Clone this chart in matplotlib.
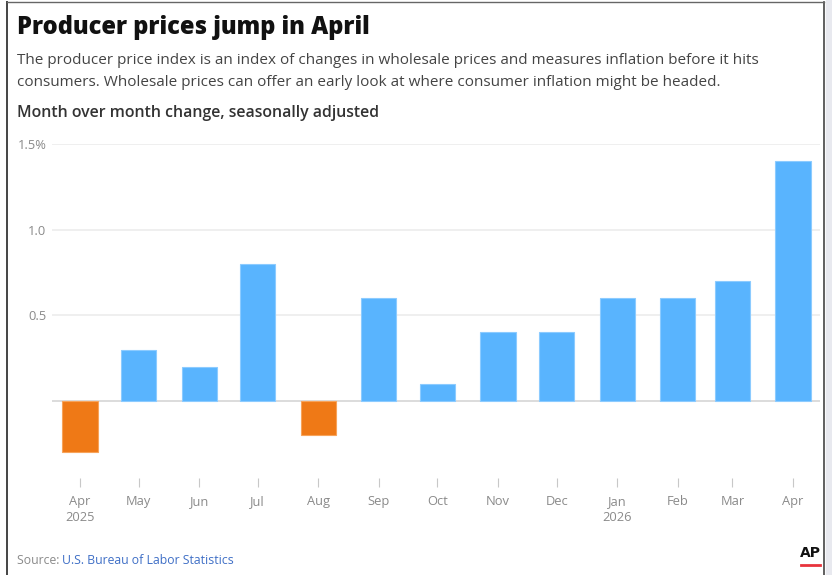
import matplotlib.pyplot as plt
import matplotlib.dates as mdates
import numpy as np
import datetime as dt

# data
months = ['2025-04', '2025-05', '2025-06', '2025-07', '2025-08', '2025-09', '2025-10',
          '2025-11', '2025-12', '2026-01', '2026-02', '2026-03', '2026-04']
tick_labels = ['Apr\n2025', 'May', 'Jun', 'Jul', 'Aug', 'Sep', 'Oct',
               'Nov', 'Dec', 'Jan\n2026', 'Feb', 'Mar', 'Apr']
changes = [-0.3, 0.3, 0.2, 0.8, -0.2, 0.6, 0.1, 0.4, 0.4, 0.6, 0.6, 0.7, 1.4]
y_ticks = [0.5, 1.0, 1.5]
y_tick_labels = ['0.5', '1.0', '1.5%']

plt.rcParams['font.family'] = ['Open Sans', 'DejaVu Sans']

blue = '#59b4fe'
orange = '#ef7916'
grey = '#8a8a8a'

dates = [dt.datetime.strptime(m, '%Y-%m') for m in months]
x = mdates.date2num(dates)
colors = [orange if v < 0 else blue for v in changes]

fig = plt.figure(figsize=(8.32, 5.75), dpi=100)
W, H = 832, 575

# page frame
fig.patches.append(plt.Rectangle((826 / W, 0), 6 / W, 1, transform=fig.transFigure,
                                 color='#e8e9ef', zorder=0))
fig.add_artist(plt.Line2D([7 / W, 7 / W], [0, 1 - 2 / H], transform=fig.transFigure,
                          color='#444444', lw=1.4))
fig.add_artist(plt.Line2D([824 / W, 824 / W], [0, 1 - 2 / H], transform=fig.transFigure,
                          color='#444444', lw=1.2))
fig.add_artist(plt.Line2D([7 / W, 824 / W], [1 - 2 / H, 1 - 2 / H], transform=fig.transFigure,
                          color='#666666', lw=1.0))

# axes: x 52..820 px, y 144..478 px
ax = fig.add_axes([52 / W, 1 - 478 / H, (820 - 52) / W, (478 - 144) / H])
ax.set_ylim(-0.45, 1.5)
ax.set_xlim(x[0] - 14.3, x[-1] + 13.8)

ax.bar(x, changes, width=18, color=colors, edgecolor=[
    '#f7a35a' if v < 0 else '#8ccbff' for v in changes], linewidth=0.8, zorder=3)

for t in y_ticks:
    ax.axhline(t, color='#ececec', lw=1.2, zorder=1)
ax.axhline(0, color='#dcdcdc', lw=1.4, zorder=2)

for s in ax.spines.values():
    s.set_visible(False)

ax.set_yticks(y_ticks)
ax.set_yticklabels(y_tick_labels)
ax.tick_params(axis='y', length=0, pad=4, labelsize=9.3, labelcolor=grey)

ax.set_xticks(x)
ax.set_xticklabels(tick_labels, linespacing=1.25)
ax.tick_params(axis='x', length=6.5, width=0.8, color='#c8c8c8', direction='out',
               pad=6, labelsize=9.3, labelcolor=grey)

# titles
fig.text(17 / W, 1 - 27 / H, 'Producer prices jump in April', fontsize=17,
         fontweight='heavy', color='#111111', va='center', ha='left')
fig.text(17 / W, 1 - 61 / H,
         'The producer price index is an index of changes in wholesale prices and measures inflation before it hits',
         fontsize=11, color='#444444', va='center', ha='left')
fig.text(17 / W, 1 - 82 / H,
         'consumers. Wholesale prices can offer an early look at where consumer inflation might be headed.',
         fontsize=11, color='#444444', va='center', ha='left')
fig.text(17 / W, 1 - 113 / H, 'Month over month change, seasonally adjusted', fontsize=11.4,
         fontweight='semibold', color='#333333', va='center', ha='left')

# source
src = fig.text(17 / W, 1 - 561 / H, 'Source: ', fontsize=8.8, color=grey, va='center', ha='left')
fig.canvas.draw()
bb = src.get_window_extent()
fig.text(bb.x1 / W, 1 - 561 / H, 'U.S. Bureau of Labor Statistics', fontsize=8.8,
         color='#3f6fc6', va='center', ha='left')

# AP logo
fig.text(810 / W, 1 - 553 / H, 'AP', fontsize=10, fontweight='heavy', color='#111111',
         va='center', ha='center', family='DejaVu Sans')
fig.add_artist(plt.Line2D([801 / W, 820 / W], [1 - 565 / H, 1 - 565 / H],
                          transform=fig.transFigure, color='#e8333c', lw=2))

fig.savefig('out.png', dpi=100)
